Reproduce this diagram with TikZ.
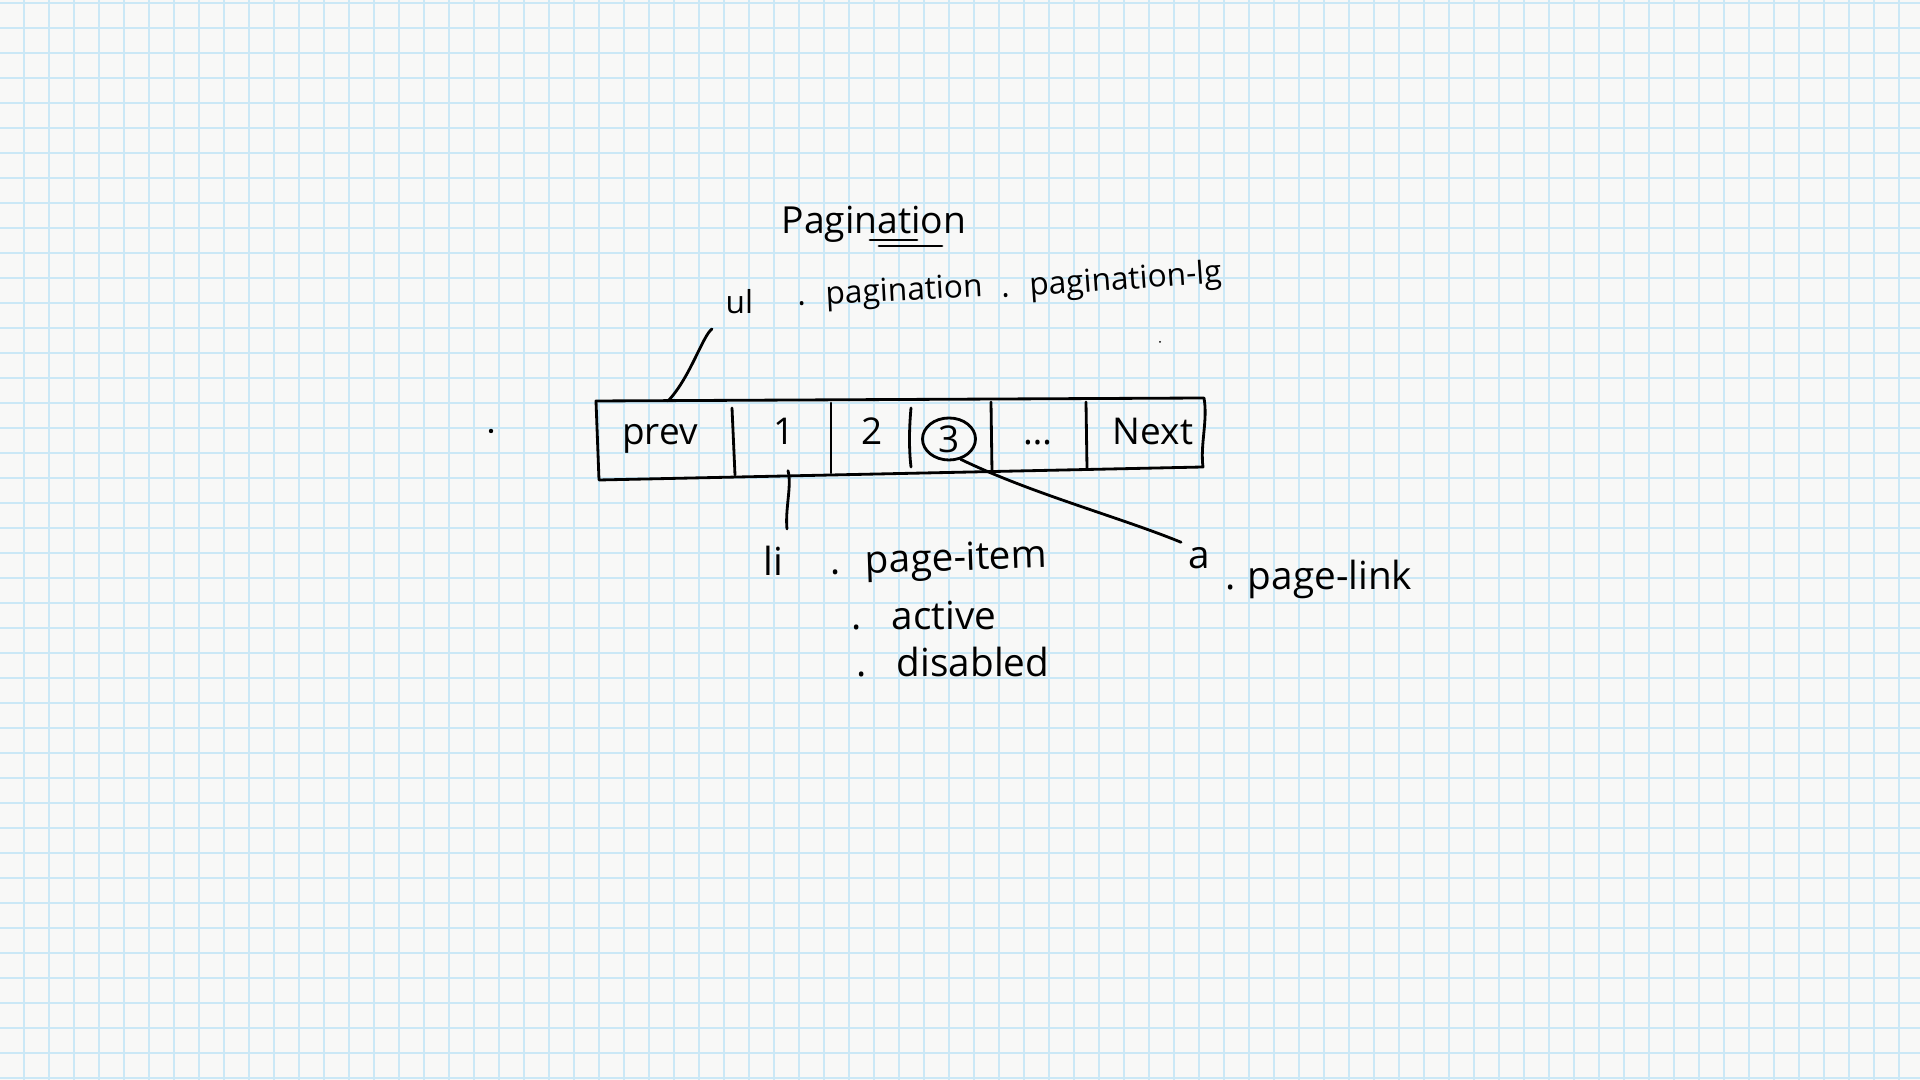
\documentclass[tikz,border=0pt]{standalone}
\usepackage{fontspec}
\setmainfont{Open Sans}
\usepackage{tikz}
\usetikzlibrary{shapes,positioning}

\definecolor{paper}{HTML}{F8F8F7}
\definecolor{gridblue}{HTML}{CBE8F6}

\begin{document}
\begin{tikzpicture}[x=0.01cm, y=-0.01cm]
\tikzstyle{hand}=[font=\fontsize{11}{13}\selectfont, inner sep=0pt, anchor=base west]
\tikzstyle{small}=[hand, font=\fontsize{9}{11}\selectfont]
\tikzstyle{cell}=[font=\fontsize{10.5}{13}\selectfont, inner sep=0pt, anchor=base]
\tikzstyle{pen}=[line width=0.8pt, line cap=round, line join=round]
\tikzstyle{gridline}=[line width=0.55pt, gridblue]

% squared paper
\useasboundingbox (0,0) rectangle (1920,1080);
\fill[paper] (0,0) rectangle (1920,1080);
\foreach \i in {0,...,76} \draw[gridline] ({24.3+25*\i},0) -- ({24.3+25*\i},1080);
\foreach \j in {0,...,43} \draw[gridline] (0,{2.7+25*\j}) -- (1920,{2.7+25*\j});

% title
\node[hand, font=\fontsize{10.6}{13}\selectfont] (title) at (781,234) {Pagination};
\draw[pen] (870,240) -- (917,240);
\draw[pen] (879,246) -- (942,246);

% ul classes
\node[small] (ul) at (725,314) {ul};
\node[small, rotate=3] (pag) at (797,306) {.\hspace{0.2cm}pagination};
\node[small, rotate=4] (paglg) at (1001,298) {.\hspace{0.2cm}pagination-lg};

% the bar
\coordinate (tl) at (596,401);
\coordinate (tr) at (1204,398);
\coordinate (br) at (1203,467);
\coordinate (bl) at (599,480);
\coordinate (ulend) at (668,401);
\draw[pen] (tl) -- (tr) .. controls (1208,420) and (1200,445) .. (br) -- (bl) -- cycle;
\draw[pen] (732,408) -- (735,475);
\draw[pen] (831,403) -- (831,473);
\draw[pen] (911,408) .. controls (909,430) and (909,450) .. (911,467);
\draw[pen] (991,402) -- (992,472);
\draw[pen] (1086,402) -- (1087,468);

\node[cell] (prev) at (660,445) {prev};
\node[cell] (1) at (784,445) {1};
\node[cell] (2) at (872,445) {2};
\node[cell, anchor=center, draw, ellipse, line width=0.8pt, minimum width=0.53cm, minimum height=0.42cm] (3) at (949,439) {3};
\node[cell] (dots) at (1038,445) {\dots};
\node[cell] (next) at (1153,445) {Next};

% li classes
\node[hand] (li) at (763,576) {li};
\node[hand, rotate=2] (item) at (830,575) {.\hspace{0.25cm}page-item};
\node[hand] (active) at (851,630) {.\hspace{0.3cm}active};
\node[hand] (disabled) at (856,677) {.\hspace{0.3cm}disabled};

% a classes
\node[hand] (a) at (1188,569) {a};
\node[hand] (link) at (1225,590) {.\hspace{0.12cm}page-link};

% leaders
\draw[pen] ([shift={(-13,14)}]ul.south west) .. controls +(-9,6) and +(22,-23) .. (ulend);
\draw[pen] ([shift={(4,25)}]1.south) .. controls +(4,15) and +(-2,-20) .. ([shift={(3,-17)}]li.north east);
\draw[pen] (3.-60) .. controls +(70,34) and +(-61,-25) .. ([shift={(-7,-5)}]a.north west);

% stray marks
\fill (491,431) circle (2.2);
\fill (1160,342) circle (1);
\end{tikzpicture}
\end{document}
